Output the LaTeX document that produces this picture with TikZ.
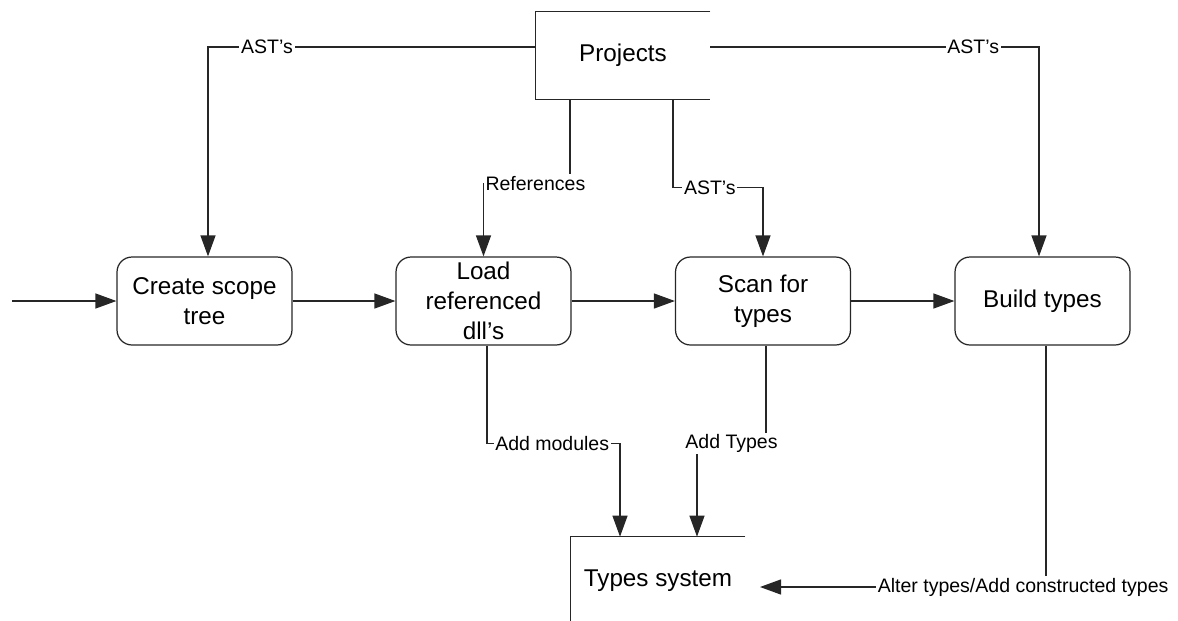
\documentclass[tikz,border=0pt]{standalone}
\usepackage{fontspec}
\setmainfont{Liberation Sans}
\usetikzlibrary{arrows.meta}

\tikzset{
    proc/.style={draw=black!85, line width=0.7pt, rounded corners=0.3cm,
        minimum width=3.5cm, minimum height=1.76cm, inner sep=0pt,
        align=center, font=\fontsize{13.8}{17.1}\selectfont},
    flow/.style={draw=black!85, line width=0.7pt,
        -{Triangle[length=0.42cm,width=0.3cm]}},
    lbl/.style={fill=white, inner sep=1pt, font=\fontsize{11.1}{13}\selectfont},
    store/.style={draw=black!85, line width=0.7pt},
}

\begin{document}
\begin{tikzpicture}[x=0.02cm, y=-0.02cm]
    \useasboundingbox (0,0) rectangle (1178,620);
    % data stores
    \node[minimum width=3.48cm, minimum height=1.74cm,
        font=\fontsize{13.8}{17.1}\selectfont] (projects) at (623,55.5) {Projects};
    \draw[store] (projects.north east) -- (projects.north west)
        -- (projects.south west) -- (projects.south east);
    \node[minimum width=3.48cm, minimum height=1.74cm,
        font=\fontsize{13.8}{17.1}\selectfont] (types) at (658,580.5) {Types system};
    \draw[store] (types.north east) -- (types.north west) -- (types.south west);
    % processes
    \node[proc] (create) at (204.5,301) {Create scope\\tree};
    \node[proc] (load) at (483.5,301) {Load\\referenced\\dll’s};
    \node[proc] (scan) at (763,301) {Scan for\\types};
    \node[proc] (build) at (1042.5,301) {Build types};
    % free ends
    \coordinate (start) at (12,301);
    \coordinate (altin) at (760,587);
    % main flow
    \draw[flow] (start) -- (create);
    \draw[flow] (create) -- (load);
    \draw[flow] (load) -- (scan);
    \draw[flow] (scan) -- (build);
    % from projects
    \draw[flow] ([yshift=0.17cm]projects.west) -| node[lbl,pos=0.41] {AST’s} ([xshift=0.07cm]create.north);
    \draw[flow] ([yshift=0.17cm]projects.east) -| node[lbl,pos=0.40] {AST’s} ([xshift=-0.07cm]build.north);
    \draw[flow] ([xshift=-1.06cm]projects.south) -- ++(0,84) -| node[lbl,pos=0.2] {References} (load.north);
    \draw[flow] ([xshift=1cm]projects.south) -- ++(0,88) -| node[lbl,pos=0.205] {AST’s} (scan.north);
    % into types system
    \draw[flow] ([xshift=0.07cm]load.south) -- ++(0,98) -| node[lbl,pos=0.245] {Add modules} ([xshift=-0.76cm]types.north);
    \draw[flow] ([xshift=0.06cm]scan.south) -- ++(0,98) -| node[lbl,pos=0.25] {Add Types} ([xshift=0.78cm]types.north);
    \draw[flow] ([xshift=0.07cm]build.south) |- node[lbl,pos=0.54] {Alter types/Add constructed types} (altin);
\end{tikzpicture}
\end{document}
